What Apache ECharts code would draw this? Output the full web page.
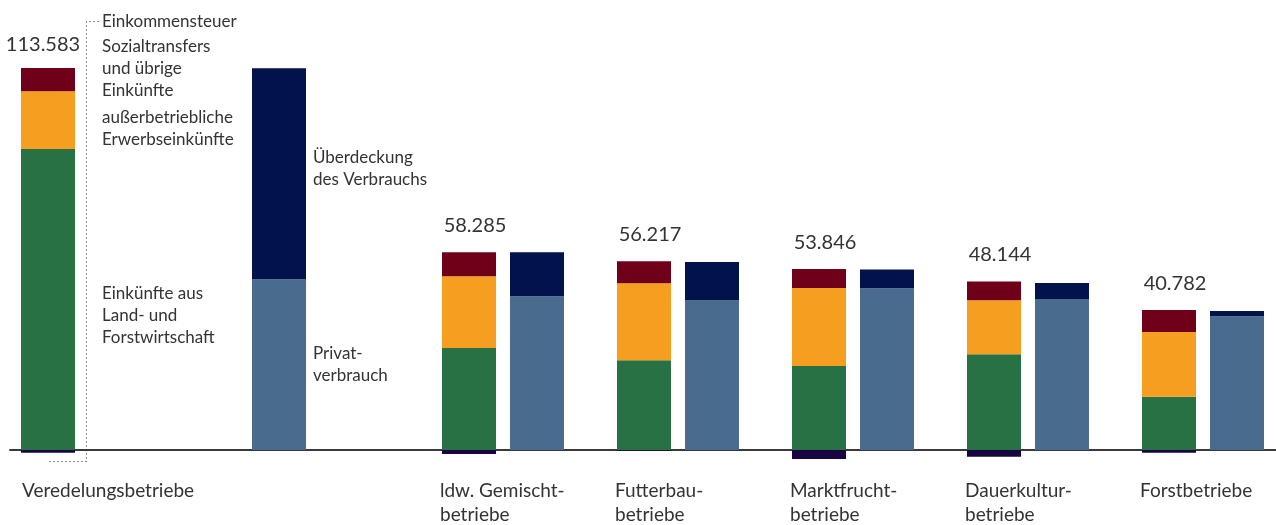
<!DOCTYPE html>
<html>
<head>
<meta charset="utf-8">
<script src="https://cdn.jsdelivr.net/npm/echarts@6/dist/echarts.min.js"></script>
<style>
  html, body { margin: 0; padding: 0; background: #fff; }
  #chart { width: 1276px; height: 525px; }
</style>
</head>
<body>
<div id="chart"></div>
<script>
  // Einkommen und Verbrauch je Betriebsform (Euro)
  var categories = ['Veredelungsbetriebe', 'ldw. Gemischt-\nbetriebe', 'Futterbau-\nbetriebe',
    'Marktfrucht-\nbetriebe', 'Dauerkultur-\nbetriebe', 'Forstbetriebe'];
  var totals = [113583, 58285, 56217, 53846, 48144, 40782];
  var landForst = [89500, 30300, 26700, 25000, 28500, 15800];
  var ausserbetrieblich = [17200, 21400, 22900, 23200, 16000, 19300];
  var sozialtransfers = [6900, 7100, 6500, 5600, 5600, 6500];
  var einkommensteuer = [-800, -1200, -200, -2700, -2000, -800];
  var privatverbrauch = [50800, 45700, 44600, 48100, 44900, 39800];
  var ueberdeckung = [62700, 13100, 11300, 5600, 4800, 1500];

  var FONT = 'Lato';
  var TXT = '#333';
  var colors = {
    green: '#287144', orange: '#f69e1f', red: '#700019', tax: '#190442',
    steel: '#496b8e', navy: '#01134a'
  };

  function fmt(v) {
    return String(v).replace(/\B(?=(\d{3})+(?!\d))/g, '.');
  }

  var chart = echarts.init(document.getElementById('chart'));

  // zero line sits on the grid bottom, tax bars hang below it (clip off)
  var gridTop = 63.3, gridBottom = 75;
  var yMin = 0, yMax = 115000;

  function series(g, from, to, gap, first) {
    var base = {
      type: 'bar', xAxisIndex: g, yAxisIndex: g, barWidth: 54, barGap: gap,
      animation: false, emphasis: {disabled: true}, clip: false
    };
    var lbl = first
      ? {show: true, position: 'top', distance: 13, offset: [-5, 0]}
      : {show: true, position: 'top', distance: 17, offset: [6, 0]};
    var sideLabel = {
      show: first, position: 'right', distance: 7, color: TXT,
      fontFamily: FONT, fontSize: 17, lineHeight: 22, align: 'left'
    };
    var sEin = 'ein' + g, sVerb = 'verb' + g;
    return [
      Object.assign({}, base, {name: 'Einkünfte aus Land- und Forstwirtschaft', stack: sEin,
        itemStyle: {color: colors.green}, data: landForst.slice(from, to)}),
      Object.assign({}, base, {name: 'außerbetriebliche Erwerbseinkünfte', stack: sEin,
        itemStyle: {color: colors.orange}, data: ausserbetrieblich.slice(from, to)}),
      Object.assign({}, base, {name: 'Sozialtransfers und übrige Einkünfte', stack: sEin,
        itemStyle: {color: colors.red}, data: sozialtransfers.slice(from, to),
        label: Object.assign(lbl, {
          color: TXT, fontFamily: FONT, fontSize: 20,
          formatter: function (p) { return fmt(totals[from + p.dataIndex]); }
        })}),
      Object.assign({}, base, {name: 'Einkommensteuer', stack: sEin, z: 3,
        itemStyle: {color: colors.tax}, data: einkommensteuer.slice(from, to)}),
      Object.assign({}, base, {name: 'Privatverbrauch', stack: sVerb,
        itemStyle: {color: colors.steel}, data: privatverbrauch.slice(from, to),
        label: Object.assign({}, sideLabel, {formatter: 'Privat-\nverbrauch'})}),
      Object.assign({}, base, {name: 'Überdeckung des Verbrauchs', stack: sVerb,
        itemStyle: {color: colors.navy}, data: ueberdeckung.slice(from, to),
        label: Object.assign({}, sideLabel, {formatter: 'Überdeckung\ndes Verbrauchs', offset: [0, -5]})})
    ];
  }

  function catAxis(g, data, w) {
    return {
      type: 'category', gridIndex: g, data: data,
      axisLine: {show: false}, axisTick: {show: false},
      axisLabel: {
        show: true, interval: 0, margin: 29,
        formatter: function (v) {
          return v.split('\n').map(function (s) { return '{a|' + s + '}'; }).join('\n');
        },
        rich: {a: {width: w, align: 'left', fontFamily: FONT, fontSize: 19, lineHeight: 24, color: TXT}}
      }
    };
  }

  function valAxis(g) {
    return {type: 'value', gridIndex: g, min: yMin, max: yMax, show: false};
  }

  var annFont = '17px ' + FONT;
  function note(text, x, y) {
    return {type: 'text', x: x, y: y, silent: true,
      style: {text: text, fill: TXT, font: annFont, lineHeight: 22, align: 'left', verticalAlign: 'middle'}};
  }

  chart.setOption({
    backgroundColor: '#fff',
    grid: [
      {left: 10, width: 307, top: gridTop, bottom: gridBottom, outerBoundsMode: 'none'},
      {left: 415.5, width: 875, top: gridTop, bottom: gridBottom, outerBoundsMode: 'none'},
      {left: 10, right: 0, top: gridTop, bottom: gridBottom, outerBoundsMode: 'none'}
    ],
    xAxis: [
      catAxis(0, categories.slice(0, 1), 283),
      catAxis(1, categories.slice(1), 126),
      {type: 'category', gridIndex: 2, data: [''], z: 1,
        axisLine: {show: true, lineStyle: {color: '#3a3a3a', width: 2}},
        axisTick: {show: false}, axisLabel: {show: false}}
    ],
    yAxis: [valAxis(0), valAxis(1), valAxis(2)],
    graphic: [
      note('Einkommensteuer', 102, 22),
      note('Sozialtransfers\nund übrige\nEinkünfte', 102, 69),
      note('außerbetriebliche\nErwerbseinkünfte', 102, 128.5),
      note('Einkünfte aus\nLand- und\nForstwirtschaft', 102, 316),
      {type: 'polyline', silent: true,
        shape: {points: [[98.5, 21.5], [86.5, 21.5], [86.5, 461.5], [47.5, 461.5]]},
        style: {stroke: '#222', lineWidth: 1, lineDash: [1, 3], fill: null}}
    ],
    series: [].concat(
      series(0, 0, 1, '327.8%', true),
      series(1, 1, 6, '25.9%', false)
    )
  });
</script>
</body>
</html>
